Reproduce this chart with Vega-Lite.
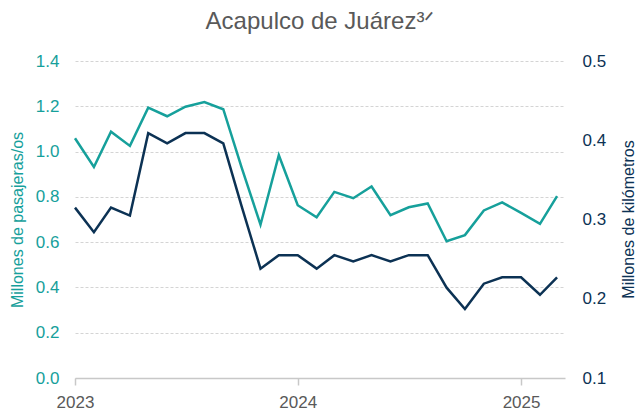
{
  "$schema": "https://vega.github.io/schema/vega-lite/v6.json",
  "autosize": {"type": "none"},
  "width": 490,
  "height": 317,
  "padding": {"left": 75, "top": 61, "right": 70, "bottom": 37},
  "background": "white",
  "config": {
    "view": {"stroke": null},
    "font": "Liberation Sans"
  },
  "title": {
    "text": "Acapulco de Juárez³ᐟ",
    "fontSize": 24,
    "fontWeight": "normal",
    "color": "#595959",
    "anchor": "middle",
    "offset": 18,
    "font": "Liberation Sans"
  },
  "data": {
    "values": [
      {"date": "2023/01/01", "pas": 1.059, "km": 0.315},
      {"date": "2023/02/01", "pas": 0.932, "km": 0.284},
      {"date": "2023/03/01", "pas": 1.088, "km": 0.315},
      {"date": "2023/04/01", "pas": 1.025, "km": 0.305},
      {"date": "2023/05/01", "pas": 1.194, "km": 0.409},
      {"date": "2023/06/01", "pas": 1.156, "km": 0.396},
      {"date": "2023/07/01", "pas": 1.198, "km": 0.409},
      {"date": "2023/08/01", "pas": 1.219, "km": 0.409},
      {"date": "2023/09/01", "pas": 1.187, "km": 0.396},
      {"date": "2023/10/01", "pas": 0.93, "km": 0.317},
      {"date": "2023/11/01", "pas": 0.677, "km": 0.238},
      {"date": "2023/12/01", "pas": 0.984, "km": 0.255},
      {"date": "2024/01/01", "pas": 0.763, "km": 0.255},
      {"date": "2024/02/01", "pas": 0.71, "km": 0.238},
      {"date": "2024/03/01", "pas": 0.822, "km": 0.255},
      {"date": "2024/04/01", "pas": 0.794, "km": 0.247},
      {"date": "2024/05/01", "pas": 0.846, "km": 0.255},
      {"date": "2024/06/01", "pas": 0.719, "km": 0.247},
      {"date": "2024/07/01", "pas": 0.754, "km": 0.255},
      {"date": "2024/08/01", "pas": 0.771, "km": 0.255},
      {"date": "2024/09/01", "pas": 0.604, "km": 0.214},
      {"date": "2024/10/01", "pas": 0.631, "km": 0.187},
      {"date": "2024/11/01", "pas": 0.74, "km": 0.219},
      {"date": "2024/12/01", "pas": 0.776, "km": 0.227},
      {"date": "2025/01/01", "pas": 0.729, "km": 0.227},
      {"date": "2025/02/01", "pas": 0.681, "km": 0.205},
      {"date": "2025/03/01", "pas": 0.803, "km": 0.227}
    ]
  },
  "encoding": {
    "x": {
      "field": "date",
      "type": "temporal",
      "scale": {"domain": [{"year": 2023, "month": 1, "date": 1}, {"year": 2025, "month": 3, "date": 14}]},
      "axis": {
        "title": null,
        "format": "%Y",
        "tickCount": {"interval": "year", "step": 1},
        "grid": false,
        "domainColor": "#c8c8c8",
        "domainWidth": 1.5,
        "tickColor": "#c8c8c8",
        "tickSize": 7,
        "tickWidth": 1.5,
        "labelColor": "#595959",
        "labelFontSize": 17,
        "labelPadding": 9,
        "labelAlign": "center",
        "labelFont": "Liberation Sans"
      }
    }
  },
  "layer": [
    {
      "mark": {"type": "line", "color": "#16a09b", "strokeWidth": 2.5},
      "encoding": {
        "y": {
          "field": "pas",
          "type": "quantitative",
          "scale": {"domain": [0, 1.4], "nice": false},
          "axis": {
            "title": "Millones de pasajeras/os",
            "titleColor": "#16a09b",
            "titleFontSize": 16,
            "titleFontWeight": "normal",
            "titleFont": "Liberation Sans",
            "titlePadding": 10,
            "values": [0, 0.2, 0.4, 0.6, 0.8, 1.0, 1.2, 1.4],
            "format": ".1f",
            "labelColor": "#16a09b",
            "labelFontSize": 17,
            "labelFont": "Liberation Sans",
            "labelPadding": 16,
            "ticks": false,
            "domain": false,
            "grid": true,
            "gridColor": "#d4d4d4",
            "gridDash": [3, 2],
            "gridWidth": 1
          }
        }
      }
    },
    {
      "mark": {"type": "line", "color": "#0c3254", "strokeWidth": 2.5},
      "encoding": {
        "y": {
          "field": "km",
          "type": "quantitative",
          "scale": {"domain": [0.1, 0.5], "nice": false, "zero": false},
          "axis": {
            "orient": "right",
            "title": "Millones de kilómetros",
            "titleColor": "#0c3254",
            "titleFontSize": 16,
            "titleFontWeight": "normal",
            "titleFont": "Liberation Sans",
            "titleAngle": 270,
            "titleX": 63,
            "titleY": 158,
            "titleAlign": "center",
            "titleBaseline": "middle",
            "values": [0.1, 0.2, 0.3, 0.4, 0.5],
            "format": ".1f",
            "labelColor": "#0c3254",
            "labelFontSize": 17,
            "labelFont": "Liberation Sans",
            "labelPadding": 17,
            "ticks": false,
            "domain": false,
            "grid": false
          }
        }
      }
    }
  ],
  "resolve": {"scale": {"y": "independent"}}
}
